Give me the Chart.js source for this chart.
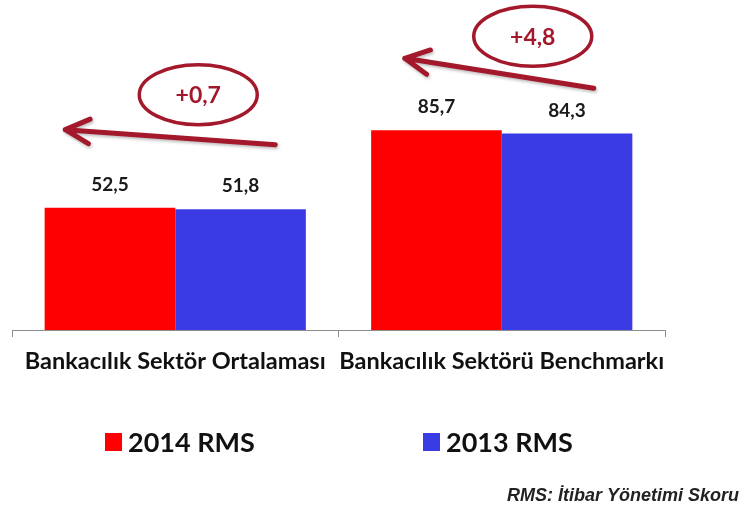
<!DOCTYPE html>
<html>
<head>
<meta charset="utf-8">
<script src="https://cdn.jsdelivr.net/npm/chart.js@4"></script>
<style>
  html, body { margin: 0; padding: 0; background: #fff; }
  #wrap { width: 742px; height: 508px; }
</style>
</head>
<body>
<div id="wrap"><canvas id="rmsChart" width="742" height="508"></canvas></div>
<script>
const categories = ['Bankacılık Sektör Ortalaması', 'Bankacılık Sektörü Benchmarkı'];
const rms2014 = [52.5, 85.7];
const rms2013 = [51.8, 84.3];
const seriesNames = ['2014 RMS', '2013 RMS'];
const deltas = ['+0,7', '+4,8'];
const footnote = 'RMS: İtibar Yönetimi Skoru';

const RED = '#ff0000';
const BLUE = '#3b3be6';
const DARKRED = '#a3182b';
const LABEL_FONT = 'Lato, "Open Sans", sans-serif';

function fmt(v) {
  return v.toFixed(1).replace('.', ',');
}

function arrow(ctx, x1, y1, x2, y2) {
  const ang = Math.atan2(y1 - y2, x1 - x2);
  const len = 27, spread = 27 * Math.PI / 180;
  ctx.beginPath();
  ctx.moveTo(x1, y1);
  ctx.lineTo(x2, y2);
  ctx.moveTo(x2 + len * Math.cos(ang - spread), y2 + len * Math.sin(ang - spread));
  ctx.lineTo(x2, y2);
  ctx.lineTo(x2 + len * Math.cos(ang + spread), y2 + len * Math.sin(ang + spread));
  ctx.stroke();
}

// value labels, delta bubbles, legend and footnote
const extras = {
  id: 'extras',
  afterDraw(chart) {
    const ctx = chart.ctx;
    const xs = chart.scales.x, ys = chart.scales.y;
    ctx.save();

    // values over bars
    ctx.fillStyle = '#1a1a1a';
    ctx.font = 'bold 19px ' + LABEL_FONT;
    ctx.textAlign = 'center';
    ctx.textBaseline = 'middle';
    chart.data.datasets.forEach((ds, di) => {
      const meta = chart.getDatasetMeta(di);
      meta.data.forEach((bar, i) => {
        ctx.fillText(fmt(ds.data[i]), bar.x, bar.y - 23);
      });
    });

    // delta arrows + ellipses
    const place = [
      { ex: 23, ey: -113, tx: 100, ty: -63, hx: -110, hy: -78 },
      { ex: 31, ey: -94, tx: 92, ty: -42, hx: -97, hy: -72 }
    ];
    deltas.forEach((d, i) => {
      const cx = xs.getPixelForValue(i);
      const top = ys.getPixelForValue(rms2014[i]);
      const p = place[i];
      ctx.strokeStyle = DARKRED;
      ctx.lineCap = 'round';
      ctx.lineJoin = 'round';
      ctx.lineWidth = 5;
      ctx.shadowColor = 'rgba(0,0,0,0.25)';
      ctx.shadowBlur = 3;
      ctx.shadowOffsetX = 1;
      ctx.shadowOffsetY = 2;
      arrow(ctx, cx + p.tx, top + p.ty, cx + p.hx, top + p.hy);
      ctx.shadowColor = 'transparent';
      ctx.lineWidth = 3.5;
      ctx.beginPath();
      ctx.ellipse(cx + p.ex, top + p.ey, 59, 30, 0, 0, Math.PI * 2);
      ctx.stroke();
      ctx.fillStyle = DARKRED;
      ctx.font = 'bold 23px ' + LABEL_FONT;
      ctx.fillText(d, cx + p.ex, top + p.ey + 1);
    });

    // legend
    const legendY = 442;
    const legendX = [105, 423];
    ctx.font = 'bold 27px ' + LABEL_FONT;
    ctx.textAlign = 'left';
    chart.data.datasets.forEach((ds, di) => {
      ctx.fillStyle = ds.backgroundColor;
      ctx.fillRect(legendX[di], legendY - 9, 17, 18);
      ctx.fillStyle = '#111';
      ctx.fillText(ds.label, legendX[di] + 23, legendY + 1);
    });

    // footnote
    ctx.font = 'italic bold 18px "Liberation Sans", Arial, sans-serif';
    ctx.textAlign = 'right';
    ctx.fillStyle = '#222';
    ctx.fillText(footnote, 739, 496);
    ctx.restore();
  }
};

new Chart(document.getElementById('rmsChart'), {
  type: 'bar',
  data: {
    labels: categories,
    datasets: [
      { label: seriesNames[0], data: rms2014, backgroundColor: RED },
      { label: seriesNames[1], data: rms2013, backgroundColor: BLUE }
    ]
  },
  options: {
    responsive: false,
    animation: false,
    devicePixelRatio: 1,
    layout: { padding: { top: 97, left: 12, right: 77, bottom: 0 } },
    categoryPercentage: 0.8,
    barPercentage: 1.0,
    plugins: {
      legend: { display: false },
      tooltip: { enabled: false }
    },
    scales: {
      y: { display: false, min: 0, max: 100 },
      x: {
        afterFit(s) { s.height = 178; },
        border: { display: true, color: '#8c8c8c', width: 1 },
        grid: { display: true, drawOnChartArea: false, drawTicks: true, tickLength: 7, color: '#8c8c8c', offset: true },
        ticks: {
          color: '#111',
          padding: 10,
          maxRotation: 0,
          autoSkip: false,
          font: { family: LABEL_FONT, size: 23.5, weight: 'bold' }
        }
      }
    }
  },
  plugins: [extras]
});
</script>
</body>
</html>
